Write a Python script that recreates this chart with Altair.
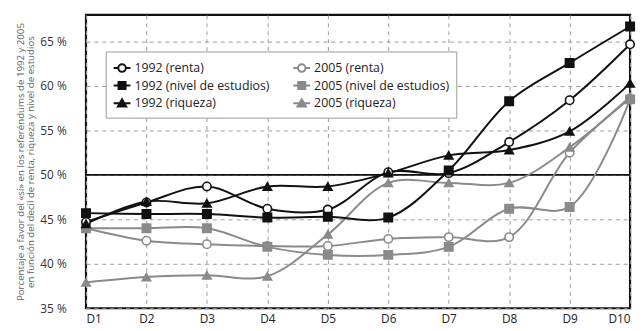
import altair as alt
import pandas as pd

deciles = [1, 2, 3, 4, 5, 6, 7, 8, 9, 10]
renta_1992 = [44.7, 46.9, 48.7, 46.2, 46.1, 50.3, 50.2, 53.7, 58.4, 64.7]
nivel_1992 = [45.7, 45.6, 45.6, 45.2, 45.3, 45.2, 50.5, 58.3, 62.6, 66.7]
riqueza_1992 = [44.5, 47.0, 46.8, 48.7, 48.7, 50.2, 52.2, 52.8, 54.9, 60.3]
renta_2005 = [44.0, 42.6, 42.2, 42.0, 42.0, 42.8, 43.0, 43.0, 52.5, 58.6]
nivel_2005 = [44.0, 44.0, 44.0, 41.9, 41.0, 41.0, 41.9, 46.2, 46.4, 58.5]
riqueza_2005 = [37.9, 38.5, 38.7, 38.6, 43.3, 49.1, 49.1, 49.1, 53.1, 58.8]

series_names = ["1992 (renta)", "1992 (nivel de estudios)", "1992 (riqueza)",
                "2005 (renta)", "2005 (nivel de estudios)", "2005 (riqueza)"]
series_values = [renta_1992, nivel_1992, riqueza_1992, renta_2005, nivel_2005, riqueza_2005]
y_ticks = [35, 40, 45, 50, 55, 60, 65]

BLACK = "#111111"
GRAY = "#8a8a8a"
strokes = [BLACK, BLACK, BLACK, GRAY, GRAY, GRAY]
fills = ["white", BLACK, BLACK, "white", GRAY, GRAY]
shapes = ["circle", "square", "triangle-up", "circle", "square", "triangle-up"]
circ = "M-1,0L-0.45,0M0.45,0L1,0M-0.45,0A0.45,0.45,0,1,1,0.45,0A0.45,0.45,0,1,1,-0.45,0Z"
sq = "M-1,0L1,0M-0.42,-0.42L0.42,-0.42L0.42,0.42L-0.42,0.42Z"
tri = "M-1,0L1,0M0,-0.5L0.5,0.38L-0.5,0.38Z"
legend_shapes = [circ, sq, tri, circ, sq, tri]
zorder = [1, 1, 1, 0, 0, 0]

rows = []
for i, (name, vals) in enumerate(zip(series_names, series_values)):
    for d, v in zip(deciles, vals):
        rows.append({"serie": name, "decil": d, "valor": v, "stroke": strokes[i],
                     "fill": fills[i], "shape": shapes[i], "z": zorder[i]})
df = pd.DataFrame(rows)

FONT = "Open Sans"

x = alt.X("decil:Q", scale=alt.Scale(domain=[1, 10], nice=False),
          axis=alt.Axis(values=deciles, labelExpr="'D' + datum.value", title=None,
                        grid=True, gridDash=[4, 4], gridColor="#999", ticks=False,
                        domain=False, labelFontSize=12, labelColor="#222",
                        labelPadding=5, labelFont=FONT))
y = alt.Y("valor:Q", scale=alt.Scale(domain=[35, 68], nice=False, zero=False),
          axis=alt.Axis(values=y_ticks, labelExpr="datum.value + ' %'",
                        title=["Porcentaje a favor del «sí» en los referéndums de 1992 y 2005",
                               "en función del decil de renta, riqueza y nivel de estudios"],
                        titleFontSize=9.8, titleColor="#666", titleFont=FONT,
                        titleFontWeight="normal", titlePadding=4, titleLineHeight=10.5,
                        grid=True, gridDash=[4, 4], gridColor="#999", ticks=False,
                        domain=False, labelFontSize=12, labelColor="#333",
                        labelPadding=20, labelFont=FONT))

base = alt.Chart(df)

rule50 = alt.Chart(pd.DataFrame({"v": [50]})).mark_rule(color=BLACK, strokeWidth=1.6).encode(
    y=alt.Y("v:Q", scale=alt.Scale(domain=[35, 68], nice=False, zero=False)))

lines = base.mark_line(interpolate="catmull-rom", strokeWidth=2).encode(
    x=x, y=y, detail="serie:N",
    stroke=alt.Stroke("stroke:N", scale=None),
    order=alt.Order("decil:Q"))

lines_gray = lines.transform_filter("datum.z == 0")
lines_black = lines.transform_filter("datum.z == 1")

pts = base.mark_point(size=72, strokeWidth=1.6, opacity=1, filled=False).encode(
    x=x, y=y,
    stroke=alt.Stroke("stroke:N", scale=None),
    fill=alt.Fill("fill:N", scale=None),
    shape=alt.Shape("shape:N", scale=None))
pts_gray = pts.transform_filter("datum.z == 0")
pts_black = pts.transform_filter("datum.z == 1")

legend = alt.Legend(title=None, orient="none", legendX=20, legendY=37, columns=2,
                    symbolSize=289, symbolStrokeWidth=2, labelFontSize=12.5,
                    labelFont=FONT, labelColor="#222", padding=7,
                    strokeColor="#999", fillColor="white", rowPadding=0,
                    columnPadding=20, labelOffset=3, labelLimit=300)
leg = base.transform_filter("false").mark_point(opacity=1, filled=False).encode(
    x=x, y=y,
    stroke=alt.Stroke("serie:N", scale=alt.Scale(domain=series_names, range=strokes), legend=legend),
    fill=alt.Fill("serie:N", scale=alt.Scale(domain=series_names, range=fills), legend=legend),
    shape=alt.Shape("serie:N", scale=alt.Scale(domain=series_names, range=legend_shapes), legend=legend))

chart = alt.layer(rule50, lines_gray, pts_gray, lines_black, pts_black, leg).properties(
    width=551, height=297,
    autosize=alt.AutoSizeParams(type="none"),
    padding={"left": 79, "top": 5, "right": 6, "bottom": 18},
    background="white",
).configure_view(stroke=BLACK, strokeWidth=2.2)

chart.save("out.html", embed_options={"renderer": "svg", "actions": False})
